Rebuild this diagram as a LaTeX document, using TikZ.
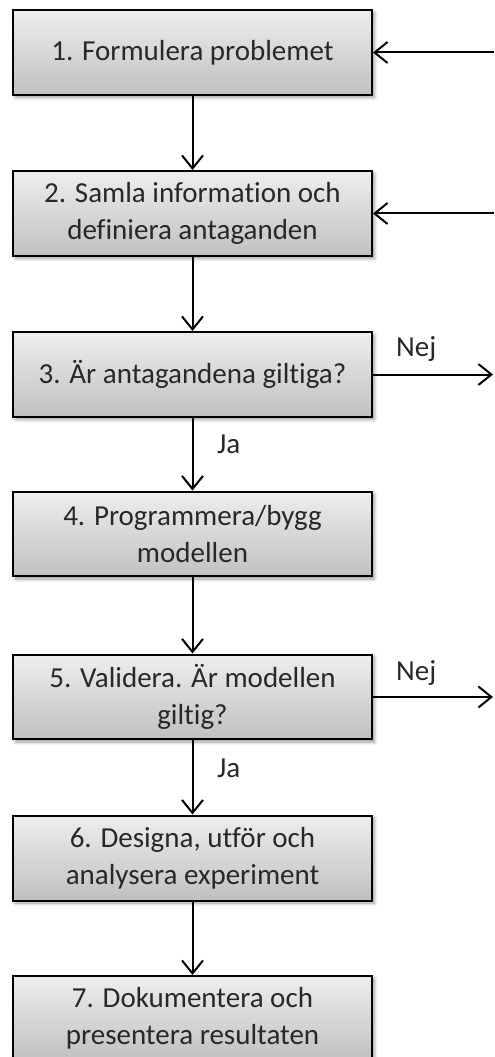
\documentclass[tikz,border=0pt]{standalone}
\usepackage{fontspec}
\setmainfont{Carlito}[Ligatures={NoCommon}]
\usetikzlibrary{arrows.meta,shadows.blur}
\definecolor{boxTop}{RGB}{238,238,238}
\definecolor{boxBottom}{RGB}{192,192,192}
\definecolor{textGray}{RGB}{40,40,40}
\begin{document}
\begin{tikzpicture}[x=0.02cm, y=-0.02cm, >={Straight Barb[length=0.26cm, width=0.42cm]},
    stepStyle/.style={rectangle, draw=black, line width=0.04cm, minimum width=7.18cm, minimum height=1.7cm, top color=boxTop, bottom color=boxBottom, align=center, text=textGray, font=\fontsize{16.5}{21}\selectfont, blur shadow={shadow xshift=0.05cm, shadow yshift=-0.05cm, shadow blur steps=6, shadow opacity=40}},
    labelStyle/.style={anchor=base west, text=textGray, font=\fontsize{16.5}{20}\selectfont},
    lineStyle/.style={line width=0.04cm}]
                    \useasboundingbox (0,0) rectangle (494,1057);

                    \node[stepStyle] (step1) at (192.5,   52.5) {1. Formulera problemet};
                    \node[stepStyle] (step2) at (192.5,  213.5) {2. Samla information och\\definiera antaganden};
                    \node[stepStyle] (step3) at (192.5,  374.5) {3. Är antagandena giltiga?};
                    \node[stepStyle] (step4) at (192.5,  534  ) {4. Programmera/bygg\\modellen};
                    \node[stepStyle] (step5) at (192.5,  697  ) {5. Validera. Är modellen\\giltig?};
                    \node[stepStyle] (step6) at (192.5,  858  ) {6. Designa, utför och\\analysera experiment};
                    \node[stepStyle] (step7) at (192.5, 1018.5) {7. Dokumentera och\\presentera resultaten};

                    % ends at the right edge
                    \coordinate (back1) at (494, 52.5);
                    \coordinate (back2) at (494, 213.5);
                    \coordinate (out3)  at (493, 374.5);
                    \coordinate (out5)  at (493, 697);

                    \node[labelStyle] (nej3) at (390, 356) {Nej};
                    \node[labelStyle] (ja3)  at (211, 453) {Ja};
                    \node[labelStyle] (nej5) at (390, 680) {Nej};
                    \node[labelStyle] (ja5)  at (211, 777) {Ja};

                    \draw[lineStyle, ->] (step1.south) -- (step2.north);
                    \draw[lineStyle, ->] (step2.south) -- (step3.north);
                    \draw[lineStyle, ->] (step3.south) -- (step4.north);
                    \draw[lineStyle, ->] (step4.south) -- (step5.north);
                    \draw[lineStyle, ->] (step5.south) -- (step6.north);
                    \draw[lineStyle, ->] (step6.south) -- (step7.north);

                    \draw[lineStyle, ->] (back1) -- (step1.east);
                    \draw[lineStyle, ->] (back2) -- (step2.east);
                    \draw[lineStyle, ->] (step3.east) -- (out3);
                    \draw[lineStyle, ->] (step5.east) -- (out5);
                \end{tikzpicture}
\end{document}
